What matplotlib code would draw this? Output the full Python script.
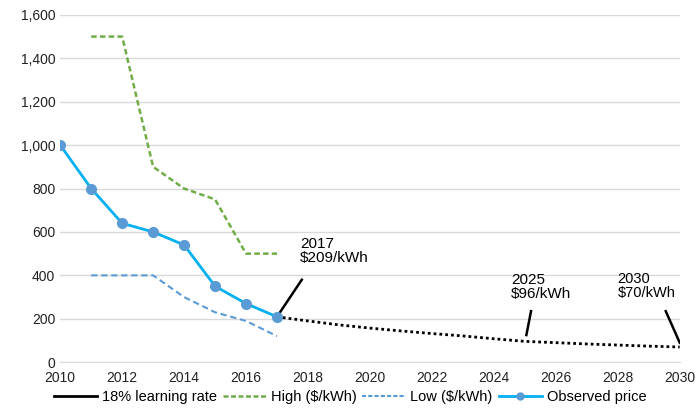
import numpy as np
import matplotlib
matplotlib.use('Agg')
import matplotlib.pyplot as plt
from matplotlib.ticker import FuncFormatter

plt.rcParams['font.family'] = ['Liberation Sans', 'DejaVu Sans']

# observed pack price
obs_years = [2010, 2011, 2012, 2013, 2014, 2015, 2016, 2017]
obs_price = [1000, 800, 640, 600, 540, 350, 270, 209]

# high / low range ($/kWh)
rng_years = [2011, 2012, 2013, 2014, 2015, 2016, 2017]
high_price = [1500, 1500, 900, 800, 750, 500, 500]
low_price = [400, 400, 400, 300, 230, 190, 120]

# 18% learning rate projection
lr_years = list(range(2017, 2031))
lr_price = [209, 190, 172, 157, 144, 132, 121, 108, 96, 90, 84, 79, 74, 70]

fig = plt.figure(figsize=(7, 4.13), dpi=100)
ax = fig.add_axes([0.086, 0.123, 0.885, 0.841])

ax.plot(lr_years, lr_price, color='black', ls=(0, (1, 1.1)), lw=2, zorder=3)
ax.plot(rng_years, high_price, color='#70AD47', ls=(0, (2.2, 1.3)), lw=1.8, zorder=2)
ax.plot(rng_years, low_price, color='#5B9BD5', ls=(0, (3, 1.8)), lw=1.5, zorder=2)
ax.plot(obs_years, obs_price, color='#00B0F0', lw=2, marker='o', ms=7,
        mfc='#5B9BD5', mec='#5B9BD5', zorder=4)

# callouts
ax.plot([2017.05, 2017.8], [220, 380], color='black', lw=1.8)
ax.text(2017.75, 450, '2017\n$209/kWh', fontsize=11, linespacing=1.0, va='bottom')
ax.plot([2025.05, 2025.2], [125, 235], color='black', lw=1.8)
ax.text(2024.55, 280, '2025\n$96/kWh', fontsize=11, linespacing=1.0, va='bottom')
ax.plot([2029.55, 2030], [235, 90], color='black', lw=1.8)
ax.text(2028.0, 285, '2030\n$70/kWh', fontsize=10.5, linespacing=1.0, va='bottom')

ax.set_xlim(2010, 2030)
ax.set_ylim(0, 1600)
ax.set_xticks(range(2010, 2031, 2))
ax.set_yticks(range(0, 1601, 200))
ax.yaxis.set_major_formatter(FuncFormatter(lambda v, p: f'{int(v):,}'))
ax.grid(axis='y', color='#D9D9D9', lw=1)
ax.set_axisbelow(True)
for s in ['top', 'right', 'left']:
    ax.spines[s].set_visible(False)
ax.spines['bottom'].set_color('#D9D9D9')
ax.tick_params(length=0, labelsize=10, colors='#222222')
ax.tick_params(axis='x', pad=6)

handles = [
    plt.Line2D([], [], color='black', lw=2),
    plt.Line2D([], [], color='#70AD47', ls=(0, (2, 1)), lw=1.8),
    plt.Line2D([], [], color='#5B9BD5', ls=(0, (2, 1)), lw=1.5),
    plt.Line2D([], [], color='#00B0F0', lw=2, marker='o', ms=5, mfc='#5B9BD5', mec='#5B9BD5'),
]
labels = ['18% learning rate', 'High ($/kWh)', 'Low ($/kWh)', 'Observed price']
fig.legend(handles, labels, loc='lower center', bbox_to_anchor=(0.5, -0.01), ncol=4,
           frameon=False, fontsize=10.5, handlelength=3, handletextpad=0.3, columnspacing=0.4)

plt.savefig('out.png', dpi=100)
